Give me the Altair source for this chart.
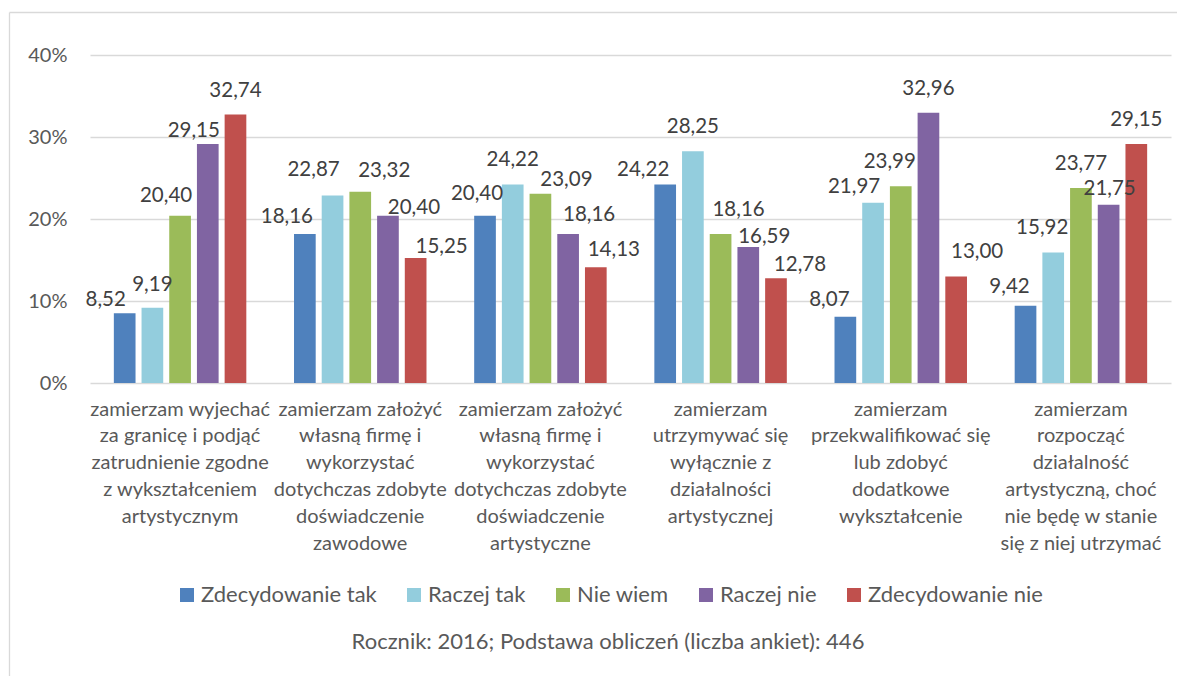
import json
import altair as alt
import pandas as pd

categories = [
    "zamierzam wyjechać|za granicę i podjąć|zatrudnienie zgodne|z wykształceniem|artystycznym",
    "zamierzam założyć|własną firmę i|wykorzystać|dotychczas zdobyte|doświadczenie|zawodowe",
    "zamierzam założyć|własną firmę i|wykorzystać|dotychczas zdobyte|doświadczenie|artystyczne",
    "zamierzam|utrzymywać się|wyłącznie z|działalności|artystycznej",
    "zamierzam|przekwalifikować się|lub zdobyć|dodatkowe|wykształcenie",
    "zamierzam|rozpocząć|działalność|artystyczną, choć|nie będę w stanie|się z niej utrzymać",
]
series = ["Zdecydowanie tak", "Raczej tak", "Nie wiem", "Raczej nie", "Zdecydowanie nie"]
colors = ["#4F81BD", "#93CDDD", "#9BBB59", "#8064A2", "#C0504D"]

zdecydowanie_tak = [8.52, 18.16, 20.40, 24.22, 8.07, 9.42]
raczej_tak = [9.19, 22.87, 24.22, 28.25, 21.97, 15.92]
nie_wiem = [20.40, 23.32, 23.09, 18.16, 23.99, 23.77]
raczej_nie = [29.15, 20.40, 18.16, 16.59, 32.96, 21.75]
zdecydowanie_nie = [32.74, 15.25, 14.13, 12.78, 13.00, 29.15]

y_ticks = [0, 10, 20, 30, 40]
caption = "Rocznik: 2016; Podstawa obliczeń (liczba ankiet): 446"

# manual label nudges (dx, dy in px) as placed in the original chart, per category then series
label_nudges = [
    [(-19, 11), (0, 1), (-14, 4), (-14, 11), (0, 0)],
    [(-18, 7), (-19, -1), (24, 3), (26, 16), (26, 13)],
    [(-8, 2), (0, 0), (26, 10), (21, 5), (18, 7)],
    [(-22, 10), (0, 0), (18, 0), (16, 14), (24, 11)],
    [(-16, 7), (-19, 8), (-11, 0), (0, 0), (21, 0)],
    [(-16, 5), (-11, 0), (0, 0), (1, 8), (0, 0)],
]

values_by_series = [zdecydowanie_tak, raczej_tak, nie_wiem, raczej_nie, zdecydowanie_nie]
rows = []
for s, vals in zip(series, values_by_series):
    for c, v in zip(categories, vals):
        rows.append({"kategoria": c, "seria": s, "wartosc": v})
df = pd.DataFrame(rows)

FONT = "Lato"
GRAY = "#595959"

x_enc = alt.X("kategoria:N", sort=categories,
              scale=alt.Scale(paddingInner=0, paddingOuter=0),
              axis=alt.Axis(title=None, labelAngle=0, labelExpr="split(datum.label, '|')",
                            labelFontSize=20, labelColor=GRAY, labelFont=FONT,
                            labelLineHeight=26.8, labelPadding=16, labelLimit=400,
                            labelOverlap=False, ticks=False, domain=False, grid=False))
xoff = alt.XOffset("seria:N", sort=series,
                   scale=alt.Scale(paddingInner=0.217, paddingOuter=0.861))
y_enc = alt.Y("wartosc:Q", scale=alt.Scale(domain=[0, 40]),
              axis=alt.Axis(title=None, values=y_ticks, labelExpr="datum.value + '%'",
                            labelFontSize=20, labelColor=GRAY, labelFont=FONT,
                            labelPadding=23, ticks=False, domain=False,
                            gridColor="#D9D9D9", gridWidth=1.3))

base = alt.Chart(df)

bars = base.mark_bar().encode(
    x=x_enc, xOffset=xoff, y=y_enc,
    color=alt.Color("seria:N", sort=series,
                    scale=alt.Scale(domain=series, range=colors),
                    legend=alt.Legend(title=None, orient="none", direction="horizontal",
                                      legendX=86, legendY=529, symbolType="square",
                                      symbolSize=196, symbolStrokeWidth=0,
                                      labelFontSize=22, labelFont=FONT, labelColor=GRAY,
                                      labelLimit=400,
                                      columnPadding=26, labelOffset=3)),
)

label_layers = []
for ci, c in enumerate(categories):
    for si, s in enumerate(series):
        dx, dy = label_nudges[ci][si]
        pred = f"datum.kategoria === {json.dumps(c)} && datum.seria === {json.dumps(s)}"
        lay = base.transform_filter(pred).transform_calculate(
            etykieta="replace(format(datum.wartosc, '.2f'), '.', ',')"
        ).mark_text(baseline="alphabetic", dx=dx, dy=-18 + dy, fontSize=20.5, font=FONT,
                    color="#404040").encode(
            x=alt.X("kategoria:N", sort=categories), xOffset=xoff,
            y=alt.Y("wartosc:Q"),
            text="etykieta:N",
        )
        label_layers.append(lay)

one = alt.Data(values=[{"t": caption}])
frame_left = alt.Chart(one).mark_rule(color="#D9D9D9", strokeWidth=1.3).encode(
    x=alt.value(-80.5), y=alt.value(-42.5), y2=alt.value(700))
frame_top = alt.Chart(one).mark_rule(color="#D9D9D9", strokeWidth=1.3).encode(
    x=alt.value(-80.5), x2=alt.value(1200), y=alt.value(-42.5))
cap = alt.Chart(one).mark_text(fontSize=22, font=FONT, color=GRAY,
                                align="center", baseline="middle").encode(
    x=alt.value(518), y=alt.value(587), text="t:N")

chart = alt.layer(frame_left, frame_top, bars, *label_layers, cap).properties(
    width=1081, height=328,
    padding={"left": 82, "top": 47, "right": 6, "bottom": 293},
    autosize=alt.AutoSizeParams(type="none"),
).configure(font=FONT).configure_view(stroke=None)

chart.save("out.html", embed_options={"renderer": "svg", "actions": False})
